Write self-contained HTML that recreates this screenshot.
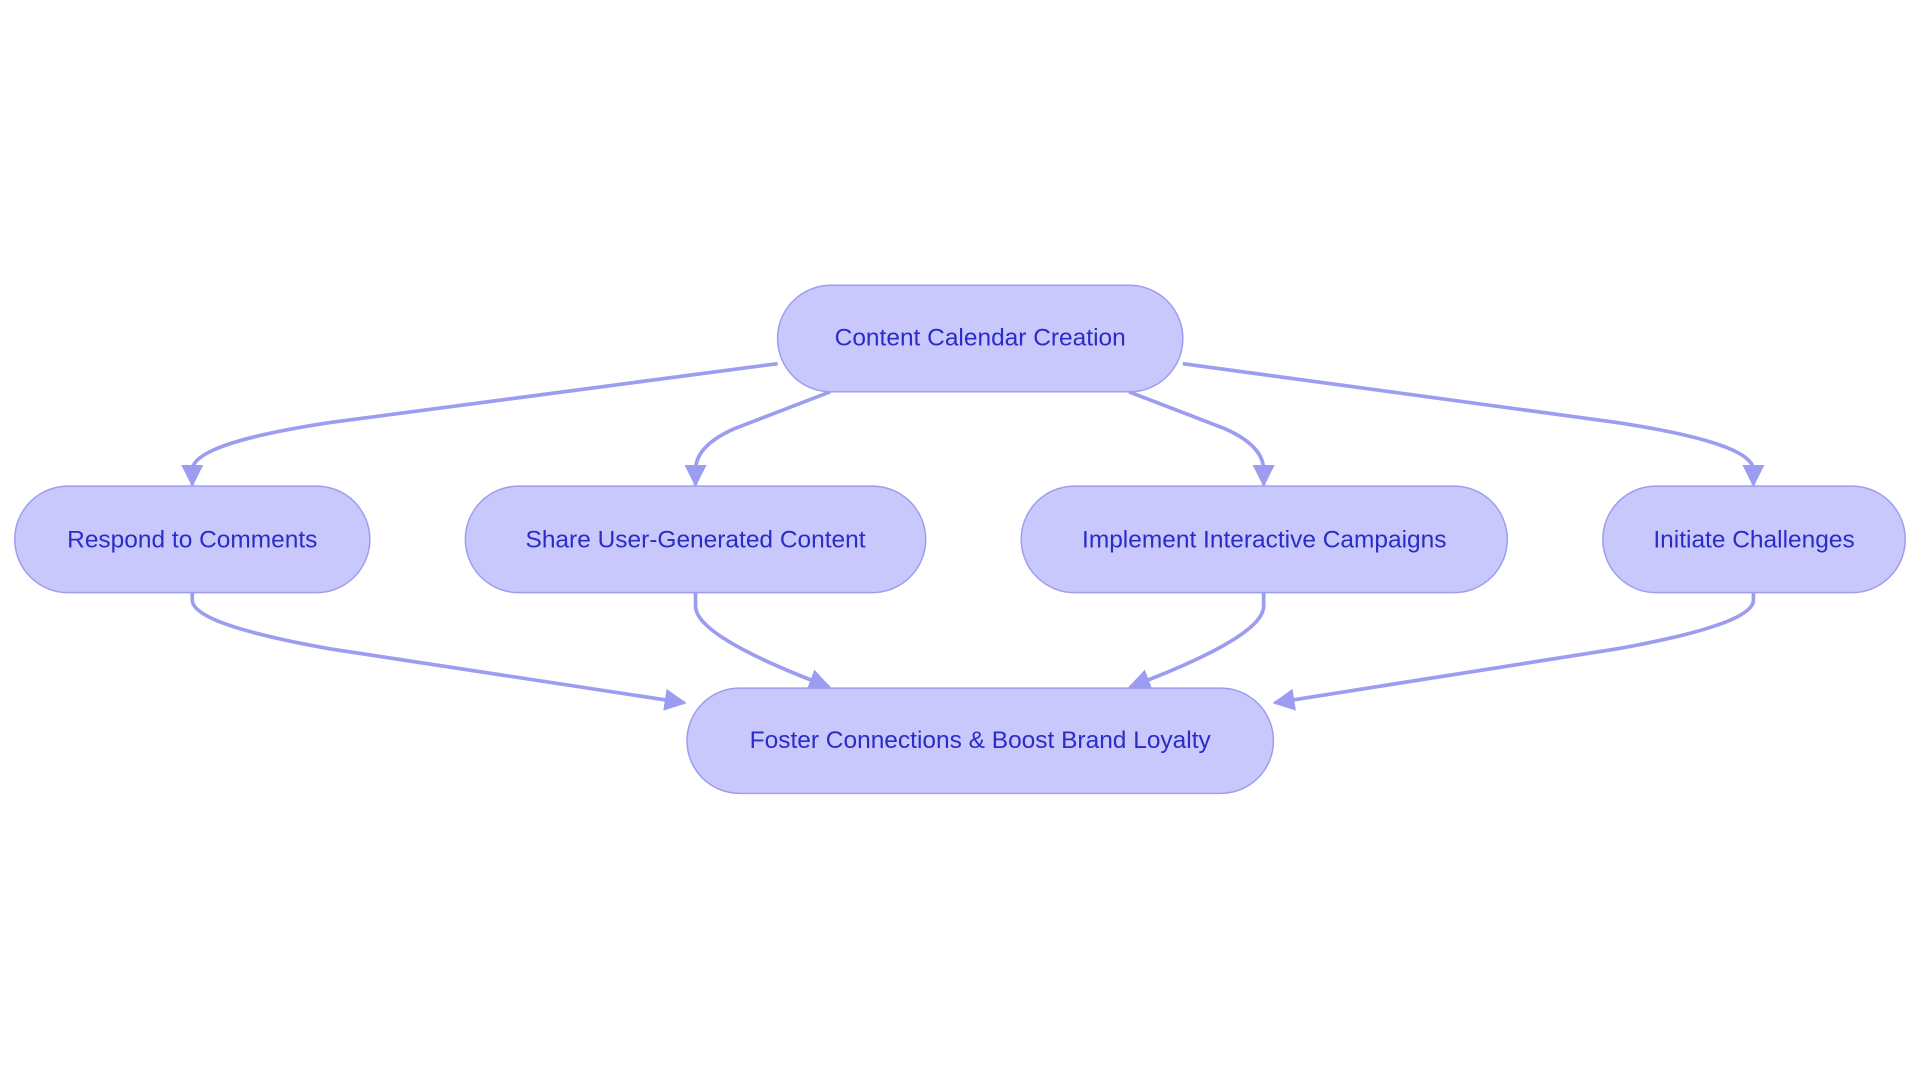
<!DOCTYPE html>
<html><head><style>html,body{margin:0;padding:0;background:#fff;width:1920px;height:1083px;overflow:hidden}</style></head>
<body>
<svg width="1920" height="1083" viewBox="0 0 1568 884.5" xmlns="http://www.w3.org/2000/svg">
<defs>
<marker id="a" viewBox="0 0 10 10" refX="9" refY="5" markerWidth="6" markerHeight="6" markerUnits="strokeWidth" orient="auto">
<path d="M0,0 L10,5 L0,10 z" fill="#9c9cf0"/>
</marker>
</defs>
<g fill="none" stroke="#9c9cf0" stroke-width="3" marker-end="url(#a)">
<path d="M635,297 L270,345 Q157,362 157,384 L157,396"/>
<path d="M678,320 L600,350 Q568,364 568,384 L568,396"/>
<path d="M922,320 L1000,350 Q1032,364 1032,384 L1032,396"/>
<path d="M966,297 L1320,345 Q1432,362 1432,384 L1432,396"/>
<path d="M157,484 L157,490 Q157,510 270,530 L559,574"/>
<path d="M568,484 L568,495 Q568,520 677,561"/>
<path d="M1032,484 L1032,495 Q1032,520 923,561"/>
<path d="M1432,484 L1432,490 Q1432,510 1320,530 L1041,574"/>
</g>
<g fill="#c8c8fc" stroke="#9c9cf0" stroke-width="1.2">
<rect x="635" y="233" width="331" height="87" rx="43.5"/>
<rect x="12" y="397" width="290" height="87" rx="43.5"/>
<rect x="380" y="397" width="376" height="87" rx="43.5"/>
<rect x="834" y="397" width="397" height="87" rx="43.5"/>
<rect x="1309" y="397" width="247" height="87" rx="43.5"/>
<rect x="561" y="562" width="479" height="86" rx="43"/>
</g>
<g font-family="'Liberation Sans', sans-serif" font-size="20" fill="#2b2bc8" text-anchor="middle">
<text x="800.5" y="282">Content Calendar Creation</text>
<text x="157" y="447">Respond to Comments</text>
<text x="568" y="447">Share User-Generated Content</text>
<text x="1032.5" y="447">Implement Interactive Campaigns</text>
<text x="1432.5" y="447">Initiate Challenges</text>
<text x="800.5" y="611">Foster Connections &amp; Boost Brand Loyalty</text>
</g>
</svg>
</body></html>
